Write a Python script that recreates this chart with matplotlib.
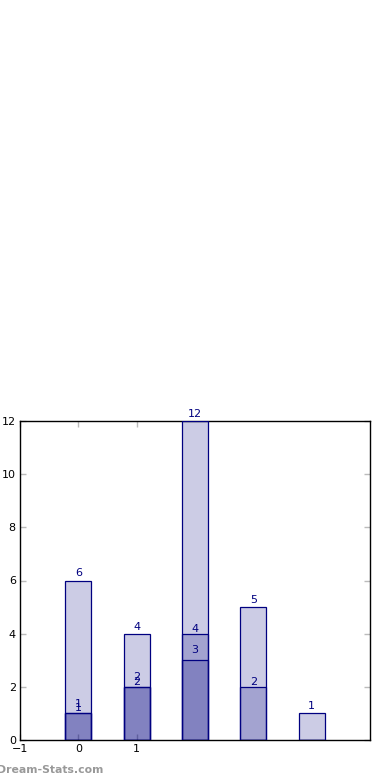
import matplotlib
matplotlib.use("Agg")
import matplotlib.pyplot as plt
import numpy as np

positions = [0, 1, 2, 3, 4]
series_a = [6, 4, 12, 5, 1]
series_b = [1, 2, 4, 2, 0]
series_c = [1, 2, 3, 0, 0]
xtick_vals = [-1, 0, 1]
xtick_labels = ["\u22121", "0", "1"]
ytick_vals = [0, 2, 4, 6, 8, 10, 12]

fig = plt.figure(figsize=(3.9, 7.8), dpi=100)
ax = fig.add_axes([20/390, 40/780, 350/390, 319/780])

width = 0.45
label_offsets = [1.5, 0, 3.5]  # points
for vals, off in zip([series_a, series_b, series_c], label_offsets):
    ax.bar(positions, vals, width=width, color="navy", alpha=0.2,
           edgecolor="none", zorder=2)
    ax.bar(positions, vals, width=width, facecolor="none", edgecolor="navy",
           linewidth=0.9, zorder=3)
    for x, v in zip(positions, vals):
        if v > 0:
            ax.annotate(str(v), (x, v), xytext=(0, off), textcoords="offset points",
                        ha="center", va="bottom", color="navy", fontsize=8,
                        annotation_clip=False)

ax.set_xlim(-1, 5)
ax.set_ylim(0, 12)
ax.set_xticks(xtick_vals)
ax.set_xticklabels(xtick_labels)
ax.set_yticks(ytick_vals)
ax.tick_params(axis="both", which="both", direction="in", length=4, width=1,
               color="#bbbbbb", labelsize=8, top=True, right=True, pad=3)
for s in ax.spines.values():
    s.set_color("black")
    s.set_linewidth(1.0)

fig.text(-3/390, 1 - 770/780, "Dream-Stats.com", color="#999999", fontsize=7.8,
         fontweight="bold", ha="left", va="center")

fig.savefig("out.png", dpi=100)
